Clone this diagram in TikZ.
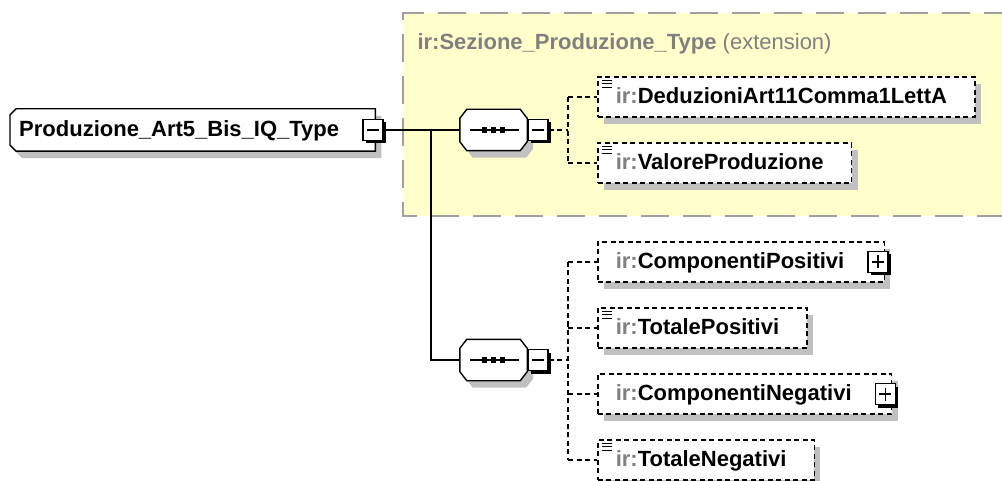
\documentclass[tikz,border=0pt]{standalone}
\usepackage{fontspec}
\setmainfont{Liberation Sans}
\usetikzlibrary{shadows}
\pgfdeclarelayer{back}
\pgfdeclarelayer{shapes}
\pgfsetlayers{back,shapes,main}
\definecolor{yelfill}{HTML}{FFFFCC}
\definecolor{yelline}{HTML}{A0A0A0}
\definecolor{shadegrey}{HTML}{C0C0C0}
\definecolor{pfxgrey}{HTML}{808080}
\newcommand{\irp}{\textcolor{pfxgrey}{ir:}}
\newcommand{\simplemark}[1]{\foreach \k in {4,7.5,11}{\draw[line width=1.4pt] ([shift={(5,\k)}]#1.north west) -- ++(10,0);}}
% octagon outline around a node (sequence compositor)
\newcommand{\octagonof}[1]{%
  ([xshift=7pt]#1.north west) -- ([xshift=-7pt]#1.north east) -- ([yshift=-9pt]#1.north east)
  -- ([yshift=9pt]#1.south east) -- ([xshift=-7pt]#1.south east) -- ([xshift=7pt]#1.south west)
  -- ([yshift=9pt]#1.south west) -- ([yshift=-9pt]#1.north west) -- cycle}
% left-chamfered outline around a node (complex type)
\newcommand{\leftchamferof}[1]{%
  ([xshift=6pt]#1.north west) -- (#1.north east) -- (#1.south east) -- ([xshift=6pt]#1.south west)
  -- ([yshift=6pt]#1.south west) -- ([yshift=-6pt]#1.north west) -- cycle}
\tikzset{
  every node/.style={font=\fontsize{22}{26}\selectfont\bfseries},
  boxshadow/.style={drop shadow={shadow xshift=6pt, shadow yshift=-7pt, fill=shadegrey, opacity=1}},
  outline/.style={draw, line width=1.4pt, fill=white, boxshadow},
  rootbox/.style={rectangle, minimum width=365pt, minimum height=42pt, inner xsep=0pt, inner ysep=0pt,
    text width=347pt, align=left, text height=17pt, text depth=4pt, anchor=west},
  seqbox/.style={rectangle, minimum width=67pt, minimum height=41pt, inner sep=0pt},
  signbox/.style={rectangle, draw, line width=1.3pt, fill=white, minimum width=20pt,
    minimum height=21pt, inner sep=0pt,
    drop shadow={shadow xshift=3pt, shadow yshift=-3pt, fill=black, opacity=1}},
  minusbox/.style={signbox, path picture={\draw[black, line width=1.4pt] ([xshift=4pt]path picture bounding box.west) -- ([xshift=-4pt]path picture bounding box.east);}},
  plusbox/.style={signbox, path picture={\draw[black, line width=1.4pt] ([xshift=4pt]path picture bounding box.west) -- ([xshift=-4pt]path picture bounding box.east);
      \draw[black, line width=1.4pt] ([yshift=-4pt]path picture bounding box.north) -- ([yshift=4pt]path picture bounding box.south);}},
  elembox/.style={rectangle, draw, dash pattern=on 5pt off 3.5pt, line width=1.5pt, fill=white,
    boxshadow, minimum height=40pt, inner xsep=0pt, inner ysep=0pt,
    text height=17pt, text depth=4pt, anchor=west},
  solidlink/.style={line width=1.5pt},
  dashlink/.style={line width=1.5pt, dash pattern=on 5pt off 3.5pt},
}
\begin{document}
\begin{tikzpicture}[x=1pt,y=-1pt]
\useasboundingbox (0,0) rectangle (1002,481);
% extension area
\begin{pgfonlayer}{back}
\fill[yelfill] (403,13) rectangle (1012,216);
\draw[yelline, line width=2pt, dash pattern=on 28pt off 14pt] (1012,13) -- (403,13) -- (403,216) -- (1012,216);
\end{pgfonlayer}
\node[anchor=base west, text=pfxgrey] (title) at (414,50) {ir:Sezione\_Produzione\_Type \mdseries(extension)};
% root and sequences
\node[rootbox] (root) at (10,130) {Produzione\_Art5\_Bis\_IQ\_Type};
\node[seqbox] (s1) at (493.5,130) {};
\node[seqbox] (s2) at (493.5,360) {};
\begin{pgfonlayer}{shapes}
\path[outline] \leftchamferof{root};
\path[outline] \octagonof{s1};
\path[outline] \octagonof{s2};
\end{pgfonlayer}
\foreach \s in {s1,s2}{
  \draw[line width=1.4pt] ([xshift=10pt]\s.west) -- ([xshift=-8pt]\s.east);
  \foreach \dx in {-9,0,9}{\fill[black] ([xshift=\dx pt]\s.center) +(-2.6pt,-2.6pt) rectangle +(2.6pt,2.6pt);}
}
\node[minusbox] (m0) at (373,130) {};
\node[minusbox] (m1) at (538,130) {};
\node[minusbox] (m2) at (538,360) {};
% elements
\node[elembox] (ded) at (597,97) {\kern18pt\irp DeduzioniArt11Comma1LettA\kern28pt};
\node[elembox] (val) at (597,163) {\kern18pt\irp ValoreProduzione\kern28pt};
\node[elembox] (cpos) at (597,262) {\kern18pt\irp ComponentiPositivi\kern40pt};
\node[elembox] (tpos) at (597,328) {\kern18pt\irp TotalePositivi\kern28pt};
\node[elembox] (cneg) at (597,394) {\kern18pt\irp ComponentiNegativi\kern40pt};
\node[elembox] (tneg) at (597,460) {\kern18pt\irp TotaleNegativi\kern28pt};
\node[plusbox] (pp) at ([xshift=-7pt]cpos.east) {};
\node[plusbox] (pn) at ([xshift=-7pt]cneg.east) {};
\simplemark{ded}
\simplemark{val}
\simplemark{tpos}
\simplemark{tneg}
% connectors
\coordinate (j) at (431,130);
\coordinate (v1) at (568,130);
\coordinate (v2) at (568,360);
\draw[solidlink] (m0.east) -- (s1.west);
\draw[solidlink] (j) |- (s2.west);
\draw[dashlink] (m1.east) -- (v1);
\draw[dashlink] (v1 |- ded.west) -- (v1 |- val.west);
\draw[dashlink] (v1 |- ded.west) -- (ded.west);
\draw[dashlink] (v1 |- val.west) -- (val.west);
\draw[dashlink] (m2.east) -- (v2);
\draw[dashlink] (v2 |- cpos.west) -- (v2 |- tneg.west);
\draw[dashlink] (v2 |- cpos.west) -- (cpos.west);
\draw[dashlink] (v2 |- tpos.west) -- (tpos.west);
\draw[dashlink] (v2 |- cneg.west) -- (cneg.west);
\draw[dashlink] (v2 |- tneg.west) -- (tneg.west);
\end{tikzpicture}
\end{document}
